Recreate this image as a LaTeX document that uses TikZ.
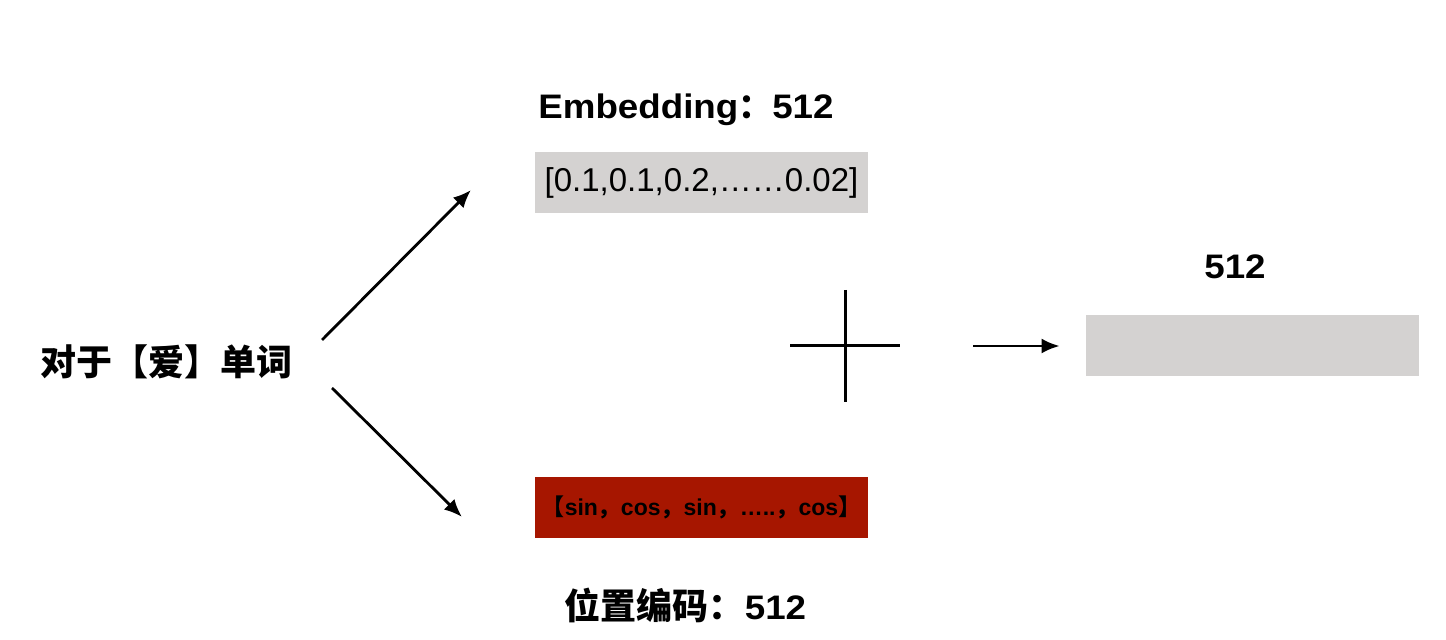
\documentclass[tikz,border=0pt]{standalone}
\usepackage{fontspec}
\setmainfont{Liberation Sans}
\newfontfamily\widesans{Liberation Sans}[FakeStretch=1.08]
\newfontfamily\cjk{Noto Sans CJK SC}
\usetikzlibrary{positioning,arrows.meta}
\definecolor{boxgray}{RGB}{212,210,209}
\definecolor{posred}{RGB}{166,22,0}
\newcommand{\zh}[1]{{\cjk #1}}
\tikzset{
  vecbox/.style={rectangle, minimum width=166.5pt, minimum height=30.5pt, inner sep=0pt},
  graybox/.style={vecbox, fill=boxgray},
  redbox/.style={vecbox, fill=posred},
  title/.style={font=\widesans\bfseries\fontsize{17}{20}\selectfont, inner sep=0pt},
  zhlabel/.style={font=\cjk\bfseries\fontsize{18}{22}\selectfont, inner sep=0pt},
  fwd/.style={-{Latex[length=9pt,width=7.5pt]}, line width=1.4pt},
  cross/.style={line width=1.5pt},
}

\begin{document}
\begin{tikzpicture}[x=0.5pt, y=-0.5pt]
  \useasboundingbox (0,0) rectangle (1446,640);
  % word and its two vectors
  \node[zhlabel] (word) at (166,362) {对于【爱】单词};
  \node[graybox, font=\fontsize{16.5}{20}\selectfont] (emb) at (701.5,183) {[0.1,0.1,0.2,……0.02]};
  \node[title] (embtitle) at (686,110) {Embedding\zh{：}512};
  \node[redbox, font=\bfseries\fontsize{11.5}{14}\selectfont] (pos) at (701.5,507.5)
    {\zh{【}sin\zh{，}cos\zh{，}sin\zh{，}…..\zh{，}cos\zh{】}};
  \node[zhlabel] (postitle) at (685.5,605) {位置编码：{\widesans\fontsize{17}{20}\selectfont 512}};
  % sum
  \node[graybox] (res) at (1252.5,345.5) {};
  \node[title] (restitle) at (1235,267) {512};

  \coordinate (wordup) at (322,340);
  \coordinate (embin) at (471,190);
  \coordinate (worddown) at (332,388);
  \coordinate (posin) at (462,517);
  \coordinate (plus) at (845,346);
  \coordinate (sumout) at (973,346);

  \draw[fwd] (wordup) -- (embin);
  \draw[fwd] (worddown) -- (posin);
  \draw[cross] (plus) ++(-55,0) -- ++(110,0);
  \draw[cross] (plus) ++(0,-56) -- ++(0,112);
  \draw[fwd, shorten >=13pt] (sumout) -- (sumout -| res.west);
\end{tikzpicture}
\end{document}
